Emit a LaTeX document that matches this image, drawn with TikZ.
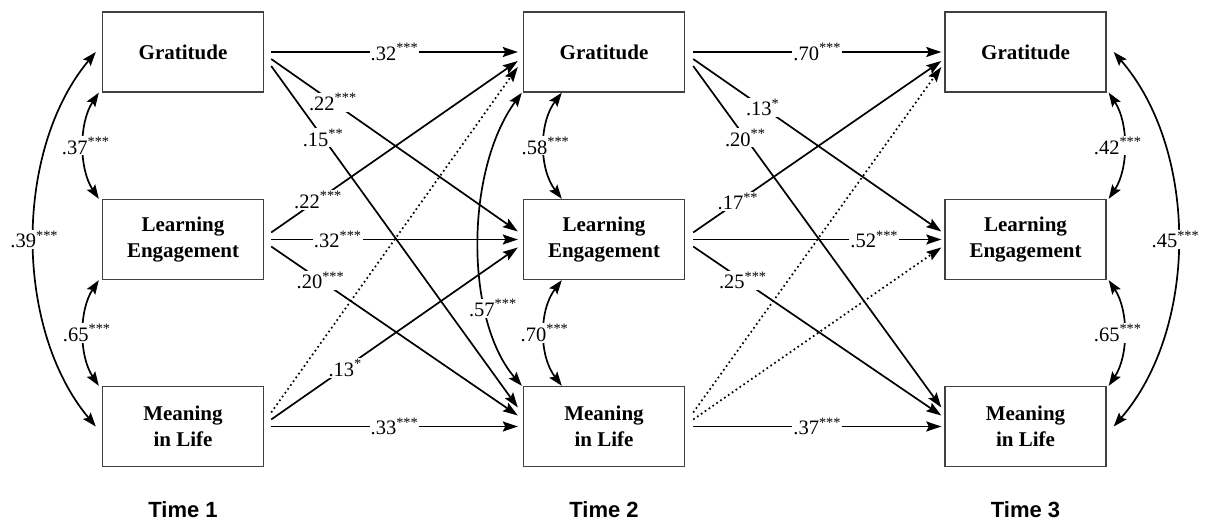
\documentclass[tikz,border=0pt]{standalone}
\usepackage{fontspec}
\setmainfont{Liberation Serif}
\newfontfamily\timefont{Liberation Sans}
\usetikzlibrary{arrows.meta}
\tikzset{
  mybox/.style={draw=black!75, line width=1.4pt, minimum width=161pt, minimum height=80pt,
    inner sep=0pt, align=center, font=\fontsize{21}{26}\selectfont\bfseries},
  arr/.style={line width=1.7pt, -{Stealth[length=15pt,width=10pt,inset=2.5pt]}},
  dotarr/.style={arr, dash pattern=on 1.7pt off 3pt},
  cov/.style={line width=1.7pt, {Stealth[length=14pt,width=10pt,inset=2.5pt]}-{Stealth[length=14pt,width=10pt,inset=2.5pt]}},
  lbl/.style={fill=white, inner sep=1pt, font=\fontsize{20.5}{22}\selectfont},
  tlbl/.style={font=\timefont\bfseries\fontsize{22}{24}\selectfont}
}
\begin{document}
\begin{tikzpicture}[x=1pt,y=-1pt]
\useasboundingbox (0,0) rectangle (1213,521);
% boxes
\node[mybox] (g1) at (183,52) {Gratitude};
\node[mybox] (l1) at (183,239.5) {Learning\\Engagement};
\node[mybox] (m1) at (183,426.5) {Meaning\\in Life};
\node[mybox] (g2) at (604,52) {Gratitude};
\node[mybox] (l2) at (604,239.5) {Learning\\Engagement};
\node[mybox] (m2) at (604,426.5) {Meaning\\in Life};
\node[mybox] (g3) at (1025.5,52) {Gratitude};
\node[mybox] (l3) at (1025.5,239.5) {Learning\\Engagement};
\node[mybox] (m3) at (1025.5,426.5) {Meaning\\in Life};
% time labels
\node[tlbl] (t1) at (183,510) {Time 1};
\node[tlbl] (t2) at (604,510) {Time 2};
\node[tlbl] (t3) at (1025.5,510) {Time 3};
% Time 1 -> Time 2
\draw[dotarr] ([shift={(7,-14)}]m1.east) -- ([shift={(-5,15)}]g2.west);
\draw[arr] ([xshift=7]g1.east) -- node[lbl]{.32\textsuperscript{***}} ([xshift=-5]g2.west);
\draw[arr] ([shift={(7,7)}]g1.east) -- node[lbl,pos=0.25]{.22\textsuperscript{***}} ([shift={(-5,-8)}]l2.west);
\draw[arr] ([shift={(7,14)}]g1.east) -- node[lbl,pos=0.21]{.15\textsuperscript{**}} ([shift={(-5,-19)}]m2.west);
\draw[arr] ([shift={(7,-7)}]l1.east) -- node[lbl,pos=0.19]{.22\textsuperscript{***}} ([shift={(-5,9)}]g2.west);
\draw[arr] ([xshift=7]l1.east) -- node[lbl,pos=0.27]{.32\textsuperscript{***}} ([xshift=-5]l2.west);
\draw[arr] ([shift={(7,7)}]l1.east) -- node[lbl,pos=0.2]{.20\textsuperscript{***}} ([shift={(-5,-11)}]m2.west);
\draw[arr] ([shift={(7,-7)}]m1.east) -- node[lbl,pos=0.3]{.13\textsuperscript{*}} ([shift={(-5,8)}]l2.west);
\draw[arr] ([xshift=7]m1.east) -- node[lbl]{.33\textsuperscript{***}} ([xshift=-5]m2.west);
% Time 2 -> Time 3
\draw[dotarr] ([shift={(8,-14)}]m2.east) -- ([shift={(-3,15)}]g3.west);
\draw[dotarr] ([shift={(8,-7)}]m2.east) -- ([shift={(-3,8)}]l3.west);
\draw[arr] ([xshift=8]g2.east) -- node[lbl]{.70\textsuperscript{***}} ([xshift=-3]g3.west);
\draw[arr] ([shift={(8,7)}]g2.east) -- node[lbl,pos=0.28]{.13\textsuperscript{*}} ([shift={(-3,-8)}]l3.west);
\draw[arr] ([shift={(8,14)}]g2.east) -- node[lbl,pos=0.21]{.20\textsuperscript{**}} ([shift={(-3,-19)}]m3.west);
\draw[arr] ([shift={(8,-7)}]l2.east) -- node[lbl,pos=0.18]{.17\textsuperscript{**}} ([shift={(-3,9)}]g3.west);
\draw[arr] ([xshift=8]l2.east) -- node[lbl,pos=0.73]{.52\textsuperscript{***}} ([xshift=-3]l3.west);
\draw[arr] ([shift={(8,7)}]l2.east) -- node[lbl,pos=0.2]{.25\textsuperscript{***}} ([shift={(-3,-11)}]m3.west);
\draw[arr] ([xshift=8]m2.east) -- node[lbl]{.37\textsuperscript{***}} ([xshift=-3]m3.west);
% covariances Time 1
\draw[cov] ([xshift=-3]g1.south west) .. controls +(-20,30) and +(-20,-30) .. ([xshift=-3]l1.north west)
  node[lbl,pos=0.5,xshift=2]{.37\textsuperscript{***}};
\draw[cov] ([xshift=-3]l1.south west) .. controls +(-20,30) and +(-20,-30) .. ([xshift=-3]m1.north west)
  node[lbl,pos=0.5,xshift=3]{.65\textsuperscript{***}};
\draw[cov] ([xshift=-6]g1.west) .. controls +(-82,98) and +(-82,-98) .. ([xshift=-6]m1.west)
  node[lbl,pos=0.5]{.39\textsuperscript{***}};
% covariances Time 2
\draw[cov] ([xshift=-1]g2.south west) .. controls +(-57,78) and +(-57,-66) .. ([xshift=-1]m2.north west)
  node[lbl,pos=0.7,xshift=7]{.57\textsuperscript{***}};
\draw[cov] ([xshift=39]g2.south west) .. controls +(-23,30) and +(-23,-30) .. ([xshift=39]l2.north west)
  node[lbl,pos=0.5,xshift=1]{.58\textsuperscript{***}};
\draw[cov] ([xshift=39]l2.south west) .. controls +(-23,30) and +(-23,-30) .. ([xshift=39]m2.north west)
  node[lbl,pos=0.5,xshift=0]{.70\textsuperscript{***}};
% covariances Time 3
\draw[cov] ([xshift=2]g3.south east) .. controls +(20,30) and +(20,-30) .. ([xshift=2]l3.north east)
  node[lbl,pos=0.5,xshift=-6]{.42\textsuperscript{***}};
\draw[cov] ([xshift=2]l3.south east) .. controls +(20,30) and +(20,-30) .. ([xshift=2]m3.north east)
  node[lbl,pos=0.5,xshift=-6]{.65\textsuperscript{***}};
\draw[cov] ([xshift=7]g3.east) .. controls +(85,98) and +(85,-98) .. ([xshift=7]m3.east)
  node[lbl,pos=0.5,xshift=-2]{.45\textsuperscript{***}};
\end{tikzpicture}
\end{document}
